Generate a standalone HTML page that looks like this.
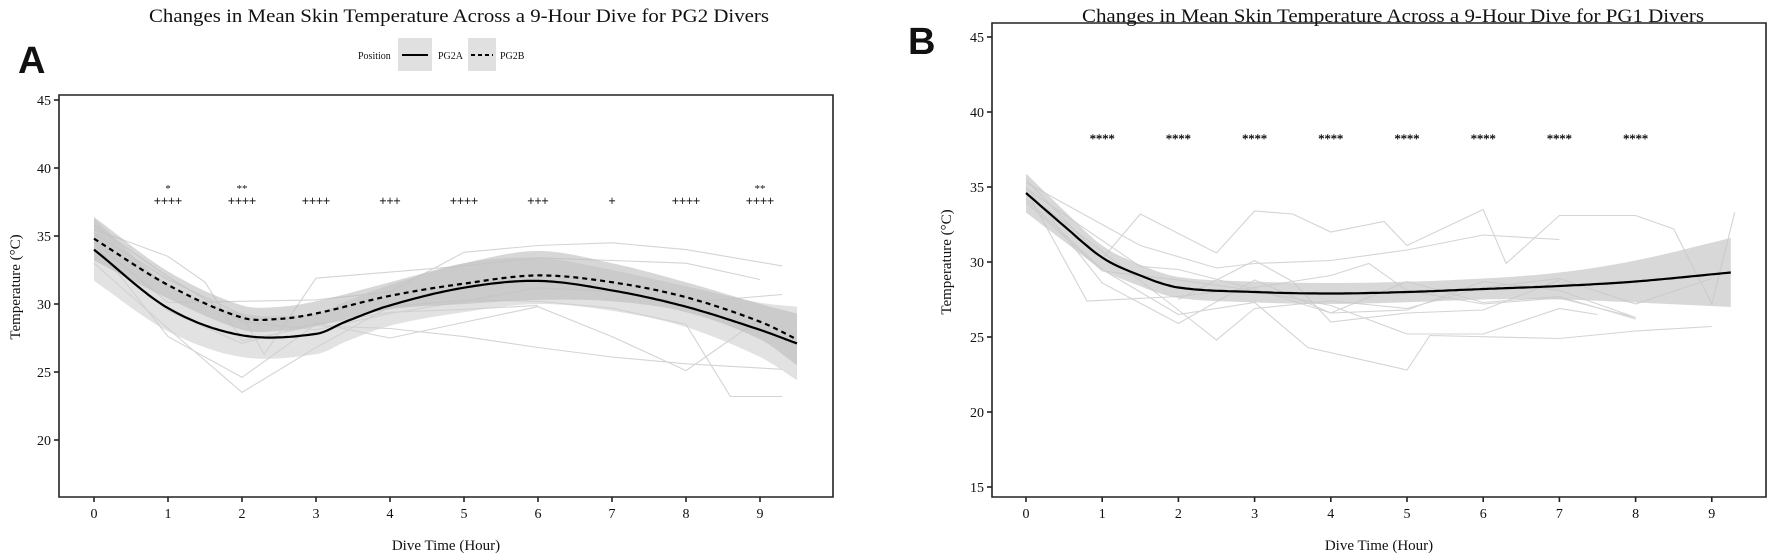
<!DOCTYPE html>
<html><head><meta charset="utf-8"><style>
html,body{margin:0;padding:0;background:#fff;}
svg{display:block;}
text{font-family:"Liberation Serif",serif;fill:#111;}
</style></head><body>
<svg id="s" width="1772" height="556" viewBox="0 0 1772 556" xmlns="http://www.w3.org/2000/svg">
<rect width="1772" height="556" fill="#fff"/>
<g id="A"></g><g id="B"></g>
<text x="149" y="22" font-size="19" textLength="620" lengthAdjust="spacingAndGlyphs">Changes in Mean Skin Temperature Across a 9-Hour Dive for PG2 Divers</text>
<text x="1082" y="22" font-size="19" textLength="622" lengthAdjust="spacingAndGlyphs">Changes in Mean Skin Temperature Across a 9-Hour Dive for PG1 Divers</text>
<text x="18" y="73" font-size="38" font-weight="bold" style="font-family:'Liberation Sans',sans-serif">A</text>
<text x="908" y="54" font-size="38" font-weight="bold" style="font-family:'Liberation Sans',sans-serif">B</text>
<!-- legend -->
<text x="358" y="59" font-size="10">Position</text>
<rect x="398" y="38" width="34" height="33" fill="#e0e0e0"/>
<line x1="402" y1="55" x2="428" y2="55" stroke="#000" stroke-width="2"/>
<text x="438" y="59" font-size="10">PG2A</text>
<rect x="468" y="38" width="28" height="33" fill="#e0e0e0"/>
<line x1="471" y1="55" x2="493" y2="55" stroke="#000" stroke-width="2" stroke-dasharray="4,3"/>
<text x="500" y="59" font-size="10">PG2B</text>
<text transform="translate(20,287) rotate(-90)" font-size="15" text-anchor="middle">Temperature (°C)</text>
<text transform="translate(951,262) rotate(-90)" font-size="15" text-anchor="middle">Temperature (°C)</text>
<text x="446" y="550" font-size="15" text-anchor="middle">Dive Time (Hour)</text>
<text x="1379" y="550" font-size="15" text-anchor="middle">Dive Time (Hour)</text>
</svg>
<script>
var NS="http://www.w3.org/2000/svg";
function el(p,tag,at,txt){var e=document.createElementNS(NS,tag);for(var k in at)e.setAttribute(k,at[k]);if(txt!==undefined)e.textContent=txt;p.appendChild(e);return e;}
function interp(pts,t){
 for(var i=0;i<pts.length-1;i++){if(t<=pts[i+1][0]){var a=pts[i],b=pts[i+1];var p0=pts[Math.max(0,i-1)],p3=pts[Math.min(pts.length-1,i+2)];var u=(t-a[0])/(b[0]-a[0]);
 var m1=(b[1]-p0[1])/(b[0]-p0[0])*(b[0]-a[0]),m2=(p3[1]-a[1])/(p3[0]-a[0])*(b[0]-a[0]);
 var u2=u*u,u3=u2*u;return (2*u3-3*u2+1)*a[1]+(u3-2*u2+u)*m1+(-2*u3+3*u2)*b[1]+(u3-u2)*m2;}}
 return pts[pts.length-1][1];}
function panel(g,P){
 var X=function(t){return P.x0+t*P.dx;},Y=function(T){return P.y45+(45-T)*P.dy;};
 P.lines.forEach(function(l){var d="";l.forEach(function(p,i){d+=(i?"L":"M")+X(p[0]).toFixed(1)+","+Y(p[1]).toFixed(1);});el(g,"path",{d:d,fill:"none",stroke:"#d4d4d4","stroke-width":1.1});});
 P.curves.forEach(function(c){
  var up="",dn=[],ln="";
  for(var t=0;t<=c.end+1e-9;t+=0.05){var v=interp(c.pts,t),w=interp(c.w,t);
   up+=(up?"L":"M")+X(t).toFixed(1)+","+Y(v+w).toFixed(1);dn.push(X(t).toFixed(1)+","+Y(v-w).toFixed(1));
   ln+=(ln?"L":"M")+X(t).toFixed(1)+","+Y(v).toFixed(1);}
  el(g,"path",{d:up+"L"+dn.reverse().join("L")+"Z",fill:c.fill,"fill-opacity":c.op,stroke:"none"});
  c.ln=ln;});
 P.curves.forEach(function(c){var a={d:c.ln,fill:"none",stroke:"#000","stroke-width":2.2};if(c.dash)a["stroke-dasharray"]="5,4";el(g,"path",a);});
 el(g,"path",{d:"M"+P.L+","+P.T+"L"+P.R+","+P.T+"L"+P.R+","+P.B+"L"+P.L+","+P.B+"Z",fill:"none",stroke:"#222","stroke-width":1.6});
 P.yt.forEach(function(v){var y=Y(v);el(g,"line",{x1:P.L-5,y1:y,x2:P.L,y2:y,stroke:"#222","stroke-width":1.6});el(g,"text",{x:P.L-8,y:y+5,"font-size":14,"text-anchor":"end"},v);});
 for(var i=0;i<=9;i++){var x=X(i);el(g,"line",{x1:x,y1:P.B,x2:x,y2:P.B+5,stroke:"#222","stroke-width":1.6});el(g,"text",{x:x,y:P.B+21,"font-size":14,"text-anchor":"middle"},i);}
 P.ann.forEach(function(a){if(a[1])el(g,"text",{x:X(a[0]),y:a[3],"font-size":11,"text-anchor":"middle"},a[1]);if(a[2])el(g,"text",{x:X(a[0]),y:a[4],"font-size":12.5,"text-anchor":"middle",stroke:"#111","stroke-width":0.3},a[2]);});
}
var A={x0:94,dx:74,y45:100,dy:13.6,L:59,R:833,T:95,B:497,yt:[20,25,30,35,40,45],
 lines:[[[0,35.2],[1,31.8],[2,29.2],[2.3,26.3],[3,31.9],[5,32.8],[6,33.4],[8,33],[9,31.8]],
 [[0,34.5],[1,27.6],[2,24.6],[3,28.5],[4,29.4],[5,29.6],[6,29.9]],
 [[0,33],[1,28.2],[2,23.5],[3,26.8],[4,29.8],[5,30.3],[6,30.2],[7,29.7],[8,28.5],[8.6,23.2],[9.3,23.2]],
 [[0,35.5],[1,33.5],[1.5,31.6],[2,27.3],[3,28.4],[4,28.2],[5,27.6],[6,26.8],[7,26.1],[8,25.6],[9.3,25.2]],
 [[0,34.6],[1,30.1],[2,30.2],[3,30.3],[4,30.9],[5,33.8],[6,34.3],[7,34.5],[8,34],[9.3,32.8]],
 [[0,35.8],[1,32],[2,28.7],[3,28.1],[4,29.3],[5,30.2],[6,31.2],[7,30.9],[8,30.1],[9.3,30.7]],
 [[0,34],[1,29.5],[2,27.1],[3,28.6],[4,27.5],[6,29.8],[7,27.6],[8,25.1],[9,28.9]]],
 curves:[
 {pts:[[0,34.0],[1,29.7],[2,27.7],[3,27.8],[3.4,28.7],[4,29.9],[5,31.2],[6,31.7],[7,31.0],[8,29.8],[9,28.1],[9.5,27.1]],
  w:[[0,2.3],[1,1.7],[2,1.6],[3,1.5],[4,1.5],[5,1.8],[6,1.7],[7,1.5],[8,1.5],[9,2.0],[9.5,2.7]],end:9.5,fill:"#cfcfcf",op:0.6},
 {pts:[[0,34.8],[1,31.4],[2,29.0],[2.5,28.9],[3,29.3],[4,30.6],[5,31.5],[6,32.1],[7,31.6],[8,30.5],[9,28.7],[9.5,27.4]],
  w:[[0,1.6],[1,1.0],[2,0.9],[3,0.9],[4,1.0],[5,1.5],[6,1.8],[7,1.4],[8,1.1],[9,1.3],[9.5,1.9]],end:9.5,fill:"#bdbdbd",op:0.6,dash:true}],
 ann:[[1,"*","++++",192,205],[2,"**","++++",192,205],[3,"","++++",0,205],[4,"","+++",0,205],[5,"","++++",0,205],[6,"","+++",0,205],[7,"","+",0,205],[8,"","++++",0,205],[9,"**","++++",192,205]]};
var B={x0:1026,dx:76.2,y45:37,dy:15,L:992,R:1766,T:23,B:497,yt:[15,20,25,30,35,40,45],
 lines:[[[0,35.5],[1,30.2],[1.5,33.2],[2.5,30.6],[3,33.4],[3.5,33.2],[4,32],[4.7,32.7],[5,31.1],[6,33.5],[6.3,29.9],[7,33.1],[8,33.1],[8.5,32.2],[9,27.2],[9.3,33.3]],
 [[0,34.8],[0.8,27.4],[2,27.7],[3,28.3],[4,29.1],[4.5,29.9],[5,28.1],[6,27.2],[7,27.6],[8,26.3]],
 [[0,34.2],[1,29.5],[2,26.5],[3,27.3],[3.7,24.3],[5,22.8],[5.3,25.1],[7,24.9],[8,25.4],[9,25.7]],
 [[0,35],[1,28.6],[2,25.9],[3,28.8],[4,26.6],[5,28.7],[6,27.3],[7,27.7],[8,26.2]],
 [[0,35.3],[1.5,31.1],[2.5,29.6],[3,29.9],[4,30.1],[5,30.8],[6,31.8],[7,31.5]],
 [[0,34.6],[2,26.8],[2.5,24.8],[3,26.9],[4,27.4],[5,26.9],[6,28.3],[7,28.9],[8,27.2],[9,28.9]],
 [[0,34],[1,29.4],[2,28.8],[3,28.1],[4,27.1],[5,25.2],[6,25.2],[7,26.9],[7.5,26.5]],
 [[0,34.9],[1.5,29.7],[2,29.5],[3,28.2],[4,26.6],[5,26.8],[6,28.7],[7,28.1],[8,26.3]],
 [[2,27.5],[3,30.1],[3.5,28.7],[4,26],[5,26.6],[6,26.8],[7,28.8]]],
 curves:[{pts:[[0,34.6],[0.5,32.4],[1,30.3],[1.5,29.1],[2,28.3],[3,28.0],[4,27.9],[5,28.0],[6,28.2],[7,28.4],[8,28.7],[9.25,29.3]],
  w:[[0,1.3],[1,0.8],[2,0.7],[4,0.7],[6,0.7],[7,0.9],[8,1.4],[9.25,2.3]],end:9.25,fill:"#c8c8c8",op:0.7}],
 ann:[[1,"","****",0,143],[2,"","****",0,143],[3,"","****",0,143],[4,"","****",0,143],[5,"","****",0,143],[6,"","****",0,143],[7,"","****",0,143],[8,"","****",0,143]]};
panel(document.getElementById("A"),A);
panel(document.getElementById("B"),B);
</script>
</body></html>
